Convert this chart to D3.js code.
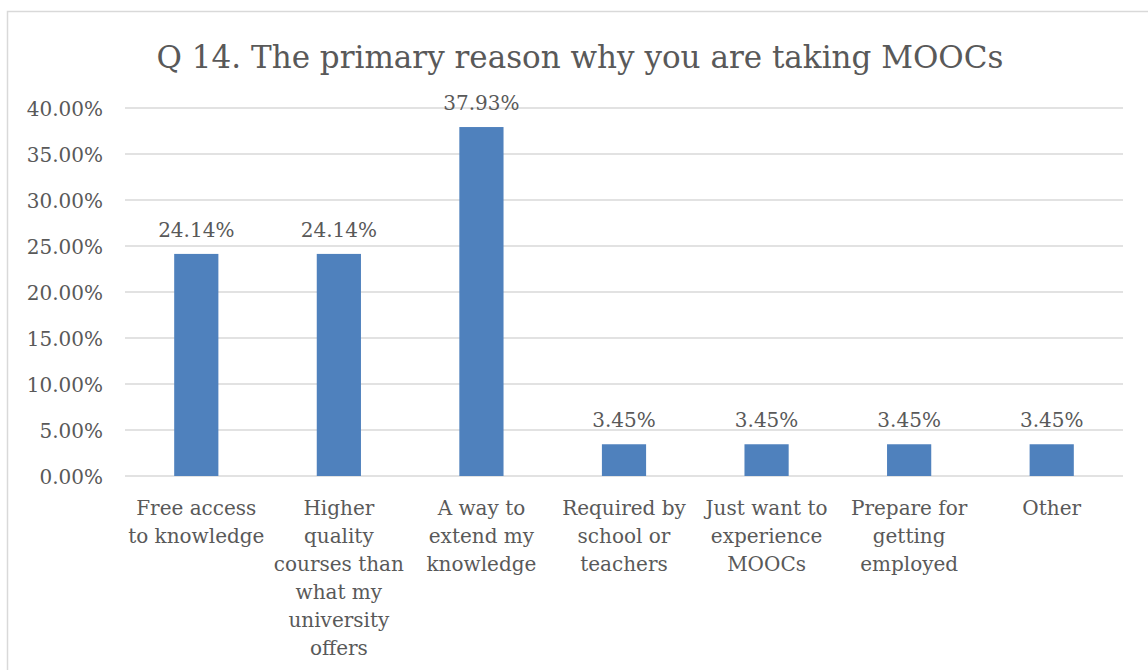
<!DOCTYPE html>
<html>
<head>
<meta charset="utf-8">
<script src="https://cdn.jsdelivr.net/npm/d3@7"></script>
<style>
  html, body { margin: 0; padding: 0; background: #ffffff; }
  svg { display: block; }
  text { font-family: "DejaVu Serif", "Liberation Serif", serif; fill: #595959; }
</style>
</head>
<body>
<svg id="chart" width="1148" height="670"></svg>
<script>
// Survey answers: primary reason for taking MOOCs
const categories = [
  "Free access to knowledge",
  "Higher quality courses than what my university offers",
  "A way to extend my knowledge",
  "Required by school or teachers",
  "Just want to experience MOOCs",
  "Prepare for getting employed",
  "Other"
];
// Line breaks used for the category labels
const categoryLines = [
  ["Free access", "to knowledge"],
  ["Higher", "quality", "courses than", "what my", "university", "offers"],
  ["A way to", "extend my", "knowledge"],
  ["Required by", "school or", "teachers"],
  ["Just want to", "experience", "MOOCs"],
  ["Prepare for", "getting", "employed"],
  ["Other"]
];
const shares = [24.14, 24.14, 37.93, 3.45, 3.45, 3.45, 3.45];
const yTicks = [0, 5, 10, 15, 20, 25, 30, 35, 40];
const title = "Q 14. The primary reason why you are taking MOOCs";

const svg = d3.select("#chart");

// Chart frame (continues past the right and bottom edges)
svg.append("rect")
  .attr("x", 7.5).attr("y", 11.5)
  .attr("width", 1160).attr("height", 680)
  .attr("fill", "#ffffff")
  .attr("stroke", "#d9d9d9")
  .attr("stroke-width", 1.5);

const plot = { left: 125, right: 1123, top: 108, bottom: 476 };

const x = d3.scaleBand()
  .domain(categories)
  .range([plot.left, plot.right])
  .paddingInner(0.69)
  .paddingOuter(0.345);

const y = d3.scaleLinear()
  .domain([0, 40])
  .range([plot.bottom, plot.top]);

// Horizontal gridlines
svg.append("g")
  .selectAll("line")
  .data(yTicks)
  .join("line")
  .attr("x1", plot.left).attr("x2", plot.right)
  .attr("y1", d => y(d)).attr("y2", d => y(d))
  .attr("stroke", "#d9d9d9")
  .attr("stroke-width", 1.5);

// Y axis labels
const yAxis = d3.axisLeft(y)
  .tickValues(yTicks)
  .tickSize(0)
  .tickPadding(0)
  .tickFormat(d => d3.format(".2f")(d) + "%");

const yg = svg.append("g")
  .attr("transform", `translate(${plot.left - 22},0)`)
  .call(yAxis);
yg.select(".domain").remove();
yg.selectAll("text")
  .attr("font-size", 20)
  .attr("dy", "0.35em")
  .style("font-family", "DejaVu Serif, serif")
  .attr("fill", "#595959");

// Bars
svg.append("g")
  .selectAll("rect")
  .data(shares)
  .join("rect")
  .attr("x", (d, i) => x(categories[i]))
  .attr("y", d => y(d))
  .attr("width", x.bandwidth())
  .attr("height", d => y(0) - y(d))
  .attr("fill", "#4f81bd");

// Value labels above bars
svg.append("g")
  .selectAll("text")
  .data(shares)
  .join("text")
  .attr("x", (d, i) => x(categories[i]) + x.bandwidth() / 2)
  .attr("y", d => y(d) - 17)
  .attr("text-anchor", "middle")
  .attr("font-size", 20)
  .text(d => d3.format(".2f")(d) + "%");

// Category labels
const xg = svg.append("g");
categoryLines.forEach((lines, i) => {
  const cx = x(categories[i]) + x.bandwidth() / 2;
  const t = xg.append("text")
    .attr("x", cx)
    .attr("y", 515)
    .attr("text-anchor", "middle")
    .attr("font-size", 20);
  lines.forEach((ln, j) => {
    t.append("tspan")
      .attr("x", cx)
      .attr("dy", j === 0 ? 0 : 28)
      .text(ln);
  });
});

// Title
svg.append("text")
  .attr("x", 580)
  .attr("y", 68)
  .attr("text-anchor", "middle")
  .attr("font-size", 31)
  .text(title);
</script>
</body>
</html>
